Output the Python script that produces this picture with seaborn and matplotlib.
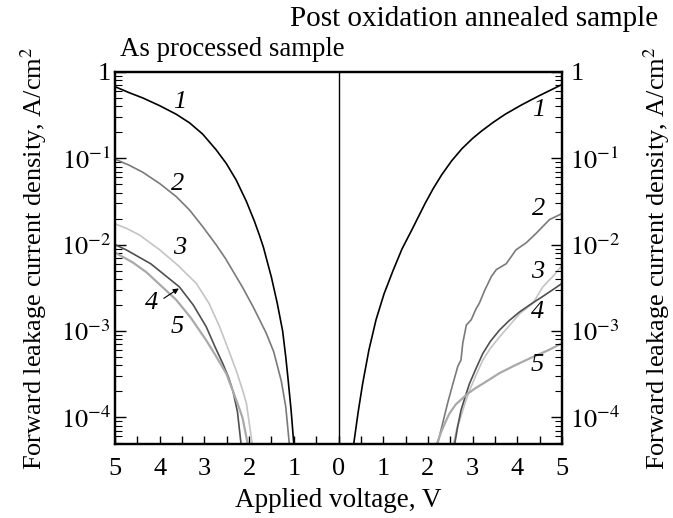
import numpy as np
import pandas as pd
import matplotlib
matplotlib.use("Agg")
import matplotlib.pyplot as plt
import seaborn as sns
from matplotlib.ticker import FixedLocator, FixedFormatter, LogLocator, NullFormatter

# ---------------- data ----------------
curve_ids = ["1", "2", "3", "4", "5"]

# As processed sample (left half), |V| in volts, J in A/cm^2
ap1_v = [5.0, 4.68, 4.38, 4.0, 3.63, 3.33, 3.04, 2.74, 2.51, 2.29, 2.06, 1.88, 1.77,
         1.68, 1.5, 1.37, 1.25, 1.18, 1.13, 1.06, 1.0]
ap1_j = [0.676, 0.575, 0.501, 0.407, 0.324, 0.257, 0.191, 0.126, 0.0871, 0.0562, 0.0316,
         0.0186, 0.0129, 0.00933, 0.00417, 0.00209, 0.00100, 5.0e-4, 2.82e-4, 1.2e-4, 4.9e-5]
ap2_v = [5.0, 4.68, 4.38, 4.0, 3.63, 3.33, 3.04, 2.74, 2.53, 2.14, 1.9, 1.62, 1.45, 1.28, 1.18, 1.10]
ap2_j = [0.098, 0.083, 0.069, 0.051, 0.036, 0.0251, 0.0162, 0.0100, 0.00692, 0.00316,
         0.00186, 9.5e-4, 5.75e-4, 2.63e-4, 1.32e-4, 4.9e-5]
ap3_v = [5.0, 4.75, 4.45, 4.0, 3.6, 3.18, 2.9, 2.66, 2.46, 2.29, 2.15, 2.06, 1.93]
ap3_j = [0.0174, 0.0155, 0.0129, 0.0087, 0.0058, 0.00355, 0.0021, 0.00112, 6.0e-4,
         3.5e-4, 2.1e-4, 1.45e-4, 4.9e-5]
ap4_v = [5.0, 4.75, 4.2, 3.56, 3.25, 2.96, 2.76, 2.59, 2.46, 2.36, 2.26, 2.18]
ap4_j = [0.0100, 0.0087, 0.0060, 0.00324, 0.0020, 0.00112, 6.5e-4, 4.2e-4, 2.9e-4,
         2.0e-4, 1.15e-4, 4.9e-5]
ap5_v = [5.0, 4.6, 4.3, 3.63, 3.3, 2.96, 2.72, 2.51, 2.36, 2.25, 2.15, 2.03]
ap5_j = [0.0081, 0.0062, 0.0048, 0.00229, 0.00141, 7.8e-4, 4.9e-4, 3.2e-4, 2.0e-4,
         1.4e-4, 1.0e-4, 4.9e-5]

# Post oxidation annealed sample (right half)
po1_v = [0.34, 0.44, 0.54, 0.68, 0.84, 1.02, 1.22, 1.42, 1.64, 1.94, 2.12, 2.31, 2.53,
         2.76, 3.0, 3.21, 3.47, 3.73, 4.1, 4.47, 4.98]
po1_j = [4.9e-5, 1.15e-4, 2.45e-4, 6.0e-4, 0.00135, 0.0027, 0.0050, 0.0089, 0.0148,
         0.0302, 0.0447, 0.0646, 0.0933, 0.129, 0.170, 0.209, 0.263, 0.324, 0.417, 0.525, 0.708]
po2_v = [2.18, 2.22, 2.33, 2.44, 2.56, 2.67, 2.74, 2.78, 2.86, 2.97, 3.08, 3.15, 3.27,
         3.42, 3.53, 3.75, 3.86, 3.97, 4.2, 4.42, 4.72, 5.0]
po2_j = [4.9e-5, 5.0e-5, 8.5e-5, 1.45e-4, 2.45e-4, 3.9e-4, 4.6e-4, 7.2e-4, 0.00117, 0.00135,
         0.00182, 0.00209, 0.00295, 0.00427, 0.00513, 0.0060, 0.0072, 0.0087, 0.0105, 0.0135,
         0.0195, 0.0229]
po3_v = [2.57, 2.65, 2.74, 2.83, 2.93, 3.08, 3.23, 3.4, 3.6, 3.82, 4.05, 4.2, 4.35, 4.57, 4.8, 5.0]
po3_j = [4.9e-5, 7.5e-5, 1.02e-4, 1.45e-4, 2.04e-4, 3.1e-4, 4.6e-4, 6.3e-4, 8.5e-4,
         0.00115, 0.00158, 0.00182, 0.00209, 0.00324, 0.0043, 0.00575]
po4_v = [2.6, 2.67, 2.74, 2.83, 2.93, 3.08, 3.23, 3.4, 3.6, 3.82, 4.05, 4.3, 4.57, 4.8, 5.0]
po4_j = [4.9e-5, 8.0e-5, 1.2e-4, 1.7e-4, 2.45e-4, 3.7e-4, 5.5e-4, 7.6e-4, 0.00102,
         0.00132, 0.00166, 0.00204, 0.00251, 0.00302, 0.00355]
po5_v = [2.2, 2.3, 2.4, 2.48, 2.62, 2.86, 3.05, 3.23, 3.6, 3.95, 4.35, 4.7, 5.0]
po5_j = [4.9e-5, 6.8e-5, 9.0e-5, 1.1e-4, 1.4e-4, 1.82e-4, 2.15e-4, 2.45e-4, 3.24e-4,
         4.0e-4, 5.0e-4, 6.0e-4, 7.2e-4]

x_tick_values = [-5, -4, -3, -2, -1, 0, 1, 2, 3, 4, 5]
x_tick_labels = ["5", "4", "3", "2", "1", "0", "1", "2", "3", "4", "5"]
y_tick_values = [1, 1e-1, 1e-2, 1e-3, 1e-4]
y_tick_labels = ["1", r"$10^{-1}$", r"$10^{-2}$", r"$10^{-3}$", r"$10^{-4}$"]

# ---------------- table ----------------
rows = []
left = [(ap1_v, ap1_j), (ap2_v, ap2_j), (ap3_v, ap3_j), (ap4_v, ap4_j), (ap5_v, ap5_j)]
right = [(po1_v, po1_j), (po2_v, po2_j), (po3_v, po3_j), (po4_v, po4_j), (po5_v, po5_j)]
for cid, (v, j) in zip(curve_ids, left):
    for vv, jj in zip(v, j):
        rows.append(("as", cid, -vv, jj))
for cid, (v, j) in zip(curve_ids, right):
    for vv, jj in zip(v, j):
        rows.append(("post", cid, vv, jj))
df = pd.DataFrame(rows, columns=["side", "curve", "V", "J"])

colors = {"1": "#000000", "2": "#7a7a7a", "3": "#c4c4c4", "4": "#4f4f4f", "5": "#a9a9a9"}
widths = {"1": 1.2, "2": 1.2, "3": 1.2, "4": 1.2, "5": 1.6}

# ---------------- figure ----------------
sns.set_theme(style="ticks")
plt.rcParams['font.family'] = ['Liberation Serif', 'DejaVu Serif']
plt.rcParams['mathtext.fontset'] = 'stix'
plt.rcParams['text.color'] = 'black'
plt.rcParams['axes.labelcolor'] = 'black'
plt.rcParams['xtick.color'] = 'black'
plt.rcParams['ytick.color'] = 'black'
FS = 19

fig = plt.figure(figsize=(6.73, 5.18), dpi=100)
ax = fig.add_axes([115 / 673, 1 - 444 / 518, (562 - 115) / 673, (444 - 72) / 518])

for (side, cid), sub in df.groupby(["side", "curve"]):
    sns.lineplot(data=sub, x="V", y="J", ax=ax, color=colors[cid], lw=widths[cid],
                 estimator=None, sort=False, legend=False)

ax.set_yscale("log")
ylo = 10 ** -4.31
ax.set_xlim(-5, 5)
ax.set_ylim(ylo, 1)
ax.axvline(0, color="black", lw=1.0)

ax.xaxis.set_major_locator(FixedLocator(x_tick_values))
ax.xaxis.set_major_formatter(FixedFormatter(x_tick_labels))
ax.xaxis.set_minor_locator(FixedLocator(np.arange(-4.5, 5.0, 1.0)))
ax.yaxis.set_major_locator(FixedLocator(y_tick_values))
ax.yaxis.set_major_formatter(FixedFormatter(y_tick_labels))
ax.yaxis.set_minor_locator(LogLocator(base=10, subs=np.arange(2, 10)))
ax.yaxis.set_minor_formatter(NullFormatter())

for s in ax.spines.values():
    s.set_linewidth(1.6)
    s.set_color("black")

ax.tick_params(axis="x", which="both", direction="in", length=6, width=1.0,
               top=False, bottom=True, labelsize=FS, pad=10, colors="black")
ax.tick_params(axis="y", which="major", direction="in", length=8, width=1.0,
               left=True, right=False, labelsize=FS, pad=3, colors="black")
ax.tick_params(axis="y", which="minor", direction="in", length=5, width=0.8,
               left=True, right=False)

ax.set_xlabel("Applied voltage, V", fontsize=19.5, labelpad=6, color="black")
ax.set_ylabel(r"Forward leakage current density, A/cm$^2$", fontsize=FS, labelpad=8, color="black")

ax2 = ax.twinx()
ax2.set_yscale("log")
ax2.set_ylim(ylo, 1)
ax2.yaxis.set_major_locator(FixedLocator(y_tick_values))
ax2.yaxis.set_major_formatter(FixedFormatter(y_tick_labels))
ax2.yaxis.set_minor_locator(LogLocator(base=10, subs=np.arange(2, 10)))
ax2.yaxis.set_minor_formatter(NullFormatter())
for s in ax2.spines.values():
    s.set_linewidth(1.6)
    s.set_color("black")
ax2.tick_params(axis="y", which="major", direction="in", length=8, width=1.0,
                labelsize=FS, pad=6, colors="black")
ax2.tick_params(axis="y", which="minor", direction="in", length=5, width=0.8)
ax2.set_ylabel(r"Forward leakage current density, A/cm$^2$", fontsize=FS, labelpad=15, color="black")

# curve number labels
lab_kw = dict(fontsize=FS, style="italic", ha="center", va="center", color="black")
left_lab = [(-3.56, 0.45), (-3.6, 0.051), (-3.56, 0.0091), (-4.18, 0.0021), (-3.6, 0.00112)]
right_lab = [(4.47, 0.36), (4.47, 0.026), (4.45, 0.0048), (4.45, 0.00166), (4.45, 0.0004)]
for cid, (x, y) in zip(curve_ids, left_lab):
    ax.text(x, y, cid, **lab_kw)
for cid, (x, y) in zip(curve_ids, right_lab):
    ax.text(x, y, cid, **lab_kw)
ax.annotate("", xy=(-3.52, 10 ** -2.49), xytext=(-3.96, 10 ** -2.64),
            arrowprops=dict(arrowstyle="-|>", color="black", lw=0.8, mutation_scale=8))

fig.text(120 / 673, 1 - 49 / 518, "As processed sample", fontsize=19.3, ha="left", va="center",
         color="black")
fig.text(658 / 673, 1 - 19 / 518, "Post oxidation annealed sample", fontsize=21, ha="right",
         va="center", color="black")

fig.savefig("out.png", dpi=100)
